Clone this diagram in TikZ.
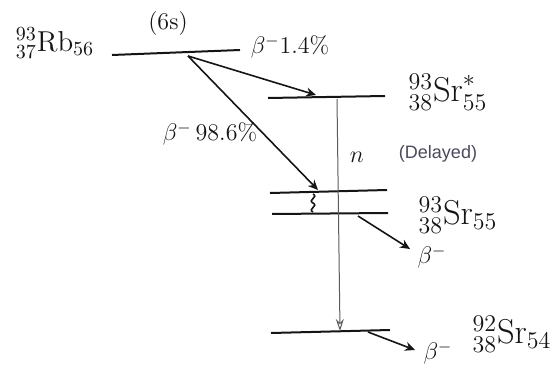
\documentclass[tikz,border=0pt]{standalone}
\usepackage{amsmath}
\usepackage{fontspec}
\newfontfamily\typedfont{Liberation Sans}
\usetikzlibrary{arrows.meta}
\definecolor{ink}{HTML}{151515}
\definecolor{typegray}{HTML}{4A4A5C}

\begin{document}
\begin{tikzpicture}[
    x=0.5pt, y=-0.5pt,
    level/.style={draw=ink, line width=1pt},
    decay/.style={-{Stealth[length=5pt, width=4.5pt]}, draw=ink, line width=0.8pt},
    neutron/.style={-{Stealth[length=6pt, width=4pt, open]}, draw=ink!70, line width=0.5pt},
    nuclide/.style={font=\LARGE, text=ink, inner sep=0pt},
    tag/.style={font=\large, text=ink, inner sep=0pt},
  ]
  \useasboundingbox (0,0) rectangle (556,369);

  % energy levels
  \coordinate (rbL) at (112,55);  \coordinate (rbR) at (240,50);
  \coordinate (srxL) at (268,98); \coordinate (srxR) at (385,96);
  \coordinate (srhiL) at (270,193); \coordinate (srhiR) at (387,190);
  \coordinate (srloL) at (272,214); \coordinate (srloR) at (388,213);
  \coordinate (grL) at (271,333); \coordinate (grR) at (390,330);
  \draw[level] (rbL) -- (rbR);
  \draw[level] (srxL) -- (srxR);
  \draw[level] (srhiL) -- (srhiR);
  \draw[level] (srloL) -- (srloR);
  \draw[level] (grL) -- (grR);

  % nuclides
  \node[nuclide, font=\Large] (rb) at (55,43) {${}^{93}_{37}\mathrm{Rb}_{56}$};
  \node[tag] (half) at (168,24) {(6s)};
  \node[nuclide] (srx) at (448,92) {${}^{93}_{38}\mathrm{Sr}^{*}_{55}$};
  \node[nuclide] (sr) at (458,215) {${}^{93}_{38}\mathrm{Sr}_{55}$};
  \node[nuclide] (gr) at (512,334) {${}^{92}_{38}\mathrm{Sr}_{54}$};

  % beta branches
  \coordinate (rbsrc) at (188,56);
  \coordinate (srxhit) at (316,95);
  \coordinate (srhihit) at (318,190);
  \draw[decay] (rbsrc) -- (srxhit);
  \draw[decay] (rbsrc) -- (srhihit);
  \node[tag] (bsmall) at (290,47) {$\beta^{-}$1.4\%};
  \node[tag] (bbig) at (210,134) {$\beta^{-}$\,98.6\%};

  % gamma cascade
  \coordinate (gtop) at (313,194);
  \coordinate (gmid) at (313,203);
  \coordinate (gbot) at (313,212);
  \draw[ink, line width=0.8pt] (gtop) .. controls (319,197) and (307,200) .. (gmid)
    .. controls (319,206) and (307,209) .. (gbot);

  % delayed neutron
  \coordinate (ntop) at (337,99);
  \coordinate (nbot) at (340,331);
  \draw[neutron] (ntop) -- (nbot);
  \node[tag] (nlab) at (357,157) {$n$};
  \node[font=\typedfont\small, text=typegray, inner sep=0pt] (delayed) at (438,154) {(Delayed)};

  % further beta decays
  \coordinate (srbsrc) at (358,216);
  \coordinate (srbend) at (410,249);
  \draw[decay] (srbsrc) -- (srbend);
  \node[tag] (bsr) at (432,257) {$\beta^{-}$};
  \coordinate (grbsrc) at (368,332);
  \coordinate (grbend) at (415,350);
  \draw[decay] (grbsrc) -- (grbend);
  \node[tag] (bgr) at (438,353) {$\beta^{-}$};
\end{tikzpicture}
\end{document}
